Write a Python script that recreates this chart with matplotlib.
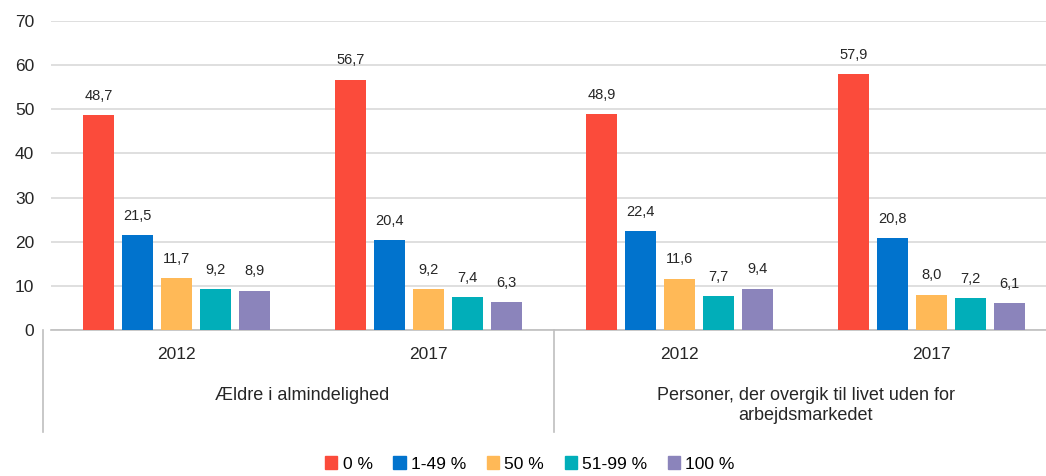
import numpy as np
from matplotlib import pyplot as plt
from matplotlib.patches import Patch

years = ['2012', '2017', '2012', '2017']
groups = ['Ældre i almindelighed', 'Personer, der overgik til livet uden for\narbejdsmarkedet']
series = ['0 %', '1-49 %', '50 %', '51-99 %', '100 %']
colors = ['#FB4B3B', '#0173CD', '#FFB957', '#01AEB9', '#8B84BB']

v_0 = [48.7, 56.7, 48.9, 57.9]
v_1_49 = [21.5, 20.4, 22.4, 20.8]
v_50 = [11.7, 9.2, 11.6, 8.0]
v_51_99 = [9.2, 7.4, 7.7, 7.2]
v_100 = [8.9, 6.3, 9.4, 6.1]
values = [v_0, v_1_49, v_50, v_51_99, v_100]

plt.rcParams['font.family'] = ['Liberation Sans', 'DejaVu Sans']

fig = plt.figure(figsize=(10.46, 4.76), dpi=100)
ax = fig.add_axes([51 / 1046, 146 / 476, 995 / 1046, 309 / 476])

x = np.arange(len(years))
width = 0.123
step = 0.155
for i, (name, vals, c) in enumerate(zip(series, values, colors)):
    pos = x + (i - 2) * step
    bars = ax.bar(pos, vals, width, color=c, label=name, zorder=3)
    for b, v in zip(bars, vals):
        ax.annotate(f'{v:.1f}'.replace('.', ','), (b.get_x() + b.get_width() / 2, v),
                    xytext=(0, 14), textcoords='offset points', ha='center', va='center',
                    fontsize=10.5, color='#262626')

ax.set_xlim(-0.5, 3.456)
ax.set_ylim(0, 70)
ax.set_yticks(range(0, 71, 10))
ax.tick_params(axis='y', length=0, labelsize=12.5, pad=12, colors='#262626')
ax.set_xticks([])
ax.grid(axis='y', color='#D9D9D9', linewidth=1.2, zorder=0)
for s in ['top', 'right', 'left']:
    ax.spines[s].set_visible(False)
ax.spines['bottom'].set_color('#BFBFBF')
ax.spines['bottom'].set_linewidth(1.2)

# year and group labels below the axis
for xi, yr in zip(x, years):
    ax.text(xi, -5.5, yr, ha='center', va='center', fontsize=12.5, color='#262626')
for gi, g in enumerate(groups):
    ax.text(0.5 + 2 * gi, -12.8, g, ha='center', va='top', fontsize=13,
            color='#262626', linespacing=1.25)
for xs in [-0.532, 1.5]:
    ax.plot([xs, xs], [0, -23.2], color='#BFBFBF', linewidth=1.2, clip_on=False)

handles = [Patch(color=c) for c in colors]
fig.legend(handles, series, loc='center', bbox_to_anchor=(530 / 1046, 1 - 464 / 476),
           ncol=5, frameon=False, fontsize=12.5, handlelength=0.7, handleheight=0.7,
           handletextpad=0.3, columnspacing=1.2)

fig.savefig('out.png', dpi=100)
